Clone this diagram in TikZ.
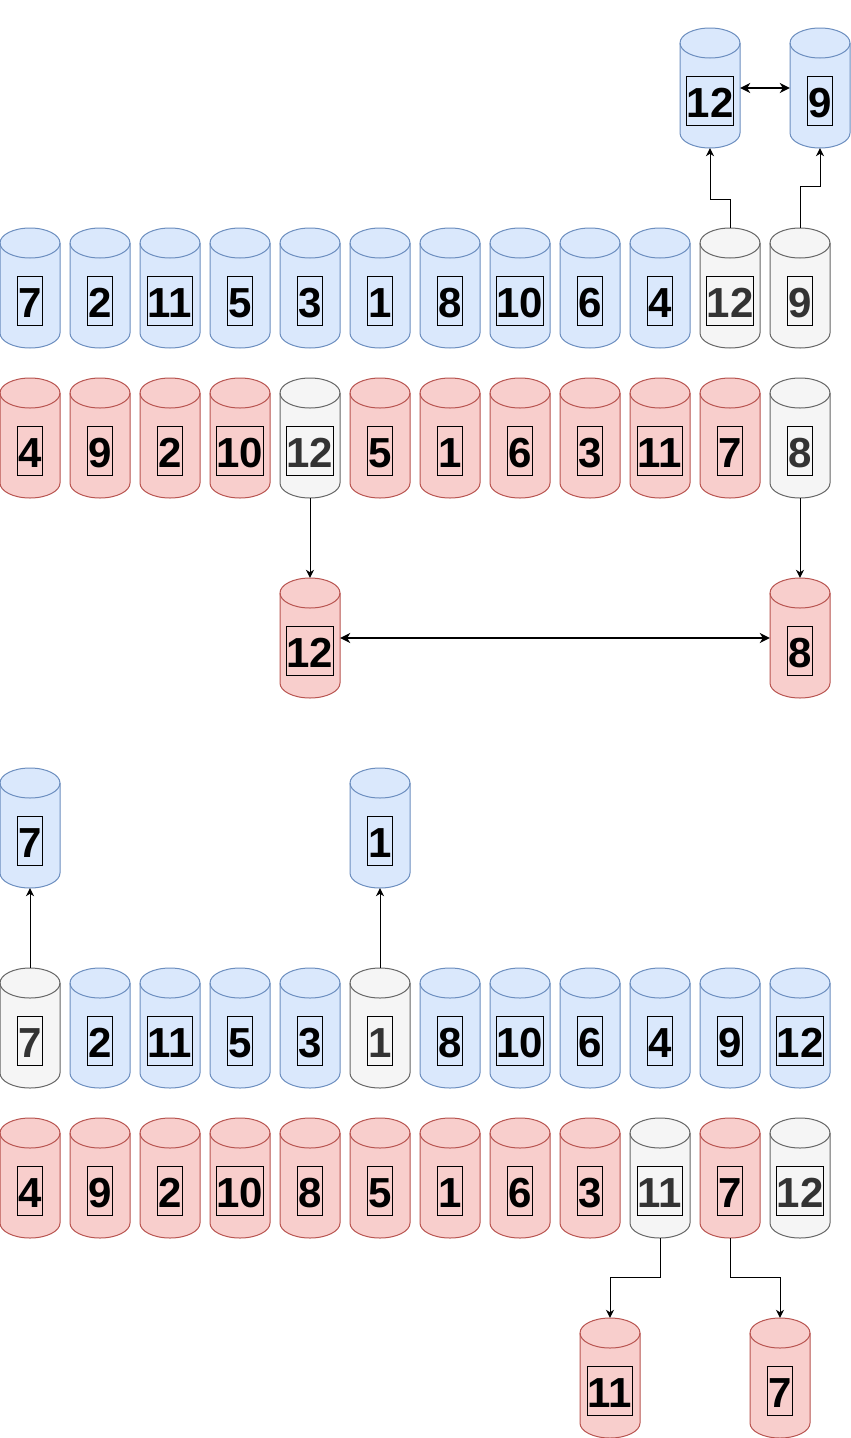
\documentclass[tikz,border=0pt]{standalone}
\usepackage{fontspec}
\setmainfont{Liberation Sans}
\usetikzlibrary{arrows.meta,calc}
\definecolor{bfill}{HTML}{DAE8FC}
\definecolor{bdraw}{HTML}{6C8EBF}
\definecolor{rfill}{HTML}{F8CECC}
\definecolor{rdraw}{HTML}{B85450}
\definecolor{gfill}{HTML}{F5F5F5}
\definecolor{gdraw}{HTML}{666666}
\definecolor{gtext}{HTML}{333333}
\tikzset{
  blue cyl/.style={fill=bfill,draw=bdraw},
  red cyl/.style={fill=rfill,draw=rdraw},
  gray cyl/.style={fill=gfill,draw=gdraw},
  blue txt/.style={text=black},
  red txt/.style={text=black},
  gray txt/.style={text=gtext},
  cylbox/.style={inner sep=0pt,minimum width=60pt,minimum height=120pt},
  numlabel/.style={draw=black,line width=1pt,font=\fontsize{42}{50}\selectfont\bfseries,
    text height=41pt,text depth=8pt,inner ysep=0pt,inner xsep=0.6pt,anchor=base},
  arr/.style={line width=1pt,-{Stealth[length=8pt,width=8pt,inset=2.5pt]}},
  darr/.style={line width=2pt,{Stealth[length=10pt,width=10pt,inset=3pt]}-{Stealth[length=10pt,width=10pt,inset=3pt]}},
}
% #1 name, #2 left x, #3 top y (downwards), #4 colour key, #5 label
\newcommand\mycyl[5]{%
  \path[#4 cyl,line width=1pt] ({#2},{-#3-15}) -- ({#2},{-#3-105})
     arc[start angle=180,end angle=360,x radius=30,y radius=15]
     -- ({#2+60},{-#3-15})
     arc[start angle=0,end angle=180,x radius=30,y radius=15] -- cycle;
  \draw[#4 cyl,fill=none,line width=1pt] ({#2},{-#3-15})
     arc[start angle=180,end angle=360,x radius=30,y radius=15];
  \node[cylbox] (#1) at ({#2+30},{-#3-60}) {};
  \node[numlabel,#4 txt] (#1t) at ({#2+30},{-#3-89}) {#5};
}
\begin{document}
\begin{tikzpicture}[x=1pt,y=1pt]
\useasboundingbox (0,0) rectangle (851,-1438);
% top pair
\mycyl{t12}{680}{28}{blue}{12}
\mycyl{t9}{790}{28}{blue}{9}
% row A
\mycyl{a0}{0}{228}{blue}{7}
\mycyl{a1}{70}{228}{blue}{2}
\mycyl{a2}{140}{228}{blue}{11}
\mycyl{a3}{210}{228}{blue}{5}
\mycyl{a4}{280}{228}{blue}{3}
\mycyl{a5}{350}{228}{blue}{1}
\mycyl{a6}{420}{228}{blue}{8}
\mycyl{a7}{490}{228}{blue}{10}
\mycyl{a8}{560}{228}{blue}{6}
\mycyl{a9}{630}{228}{blue}{4}
\mycyl{a10}{700}{228}{gray}{12}
\mycyl{a11}{770}{228}{gray}{9}
% row B
\mycyl{b0}{0}{378}{red}{4}
\mycyl{b1}{70}{378}{red}{9}
\mycyl{b2}{140}{378}{red}{2}
\mycyl{b3}{210}{378}{red}{10}
\mycyl{b4}{280}{378}{gray}{12}
\mycyl{b5}{350}{378}{red}{5}
\mycyl{b6}{420}{378}{red}{1}
\mycyl{b7}{490}{378}{red}{6}
\mycyl{b8}{560}{378}{red}{3}
\mycyl{b9}{630}{378}{red}{11}
\mycyl{b10}{700}{378}{red}{7}
\mycyl{b11}{770}{378}{gray}{8}
% red pair
\mycyl{r12}{280}{578}{red}{12}
\mycyl{r8}{770}{578}{red}{8}
% lower blue singles
\mycyl{s7}{0}{768}{blue}{7}
\mycyl{s1}{350}{768}{blue}{1}
% row C
\mycyl{c0}{0}{968}{gray}{7}
\mycyl{c1}{70}{968}{blue}{2}
\mycyl{c2}{140}{968}{blue}{11}
\mycyl{c3}{210}{968}{blue}{5}
\mycyl{c4}{280}{968}{blue}{3}
\mycyl{c5}{350}{968}{gray}{1}
\mycyl{c6}{420}{968}{blue}{8}
\mycyl{c7}{490}{968}{blue}{10}
\mycyl{c8}{560}{968}{blue}{6}
\mycyl{c9}{630}{968}{blue}{4}
\mycyl{c10}{700}{968}{blue}{9}
\mycyl{c11}{770}{968}{blue}{12}
% row D
\mycyl{d0}{0}{1118}{red}{4}
\mycyl{d1}{70}{1118}{red}{9}
\mycyl{d2}{140}{1118}{red}{2}
\mycyl{d3}{210}{1118}{red}{10}
\mycyl{d4}{280}{1118}{red}{8}
\mycyl{d5}{350}{1118}{red}{5}
\mycyl{d6}{420}{1118}{red}{1}
\mycyl{d7}{490}{1118}{red}{6}
\mycyl{d8}{560}{1118}{red}{3}
\mycyl{d9}{630}{1118}{gray}{11}
\mycyl{d10}{700}{1118}{red}{7}
\mycyl{d11}{770}{1118}{gray}{12}
% bottom red singles
\mycyl{e11}{580}{1318}{red}{11}
\mycyl{e7}{750}{1318}{red}{7}
% connectors
\draw[arr] (a10.north) -- ++(0,28) -| (t12.south);
\draw[arr] (a11.north) -- ++(0,41) -| (t9.south);
\draw[darr] (t12.east) -- (t9.west);
\draw[arr] (b4.south) -- (r12.north);
\draw[arr] (b11.south) -- (r8.north);
\draw[darr] (r12.east) -- (r8.west);
\draw[arr] (c0.north) -- (s7.south);
\draw[arr] (c5.north) -- (s1.south);
\draw[arr] (d9.south) -- ++(0,-39) -| (e11.north);
\draw[arr] (d10.south) -- ++(0,-39) -| (e7.north);
\end{tikzpicture}
\end{document}
